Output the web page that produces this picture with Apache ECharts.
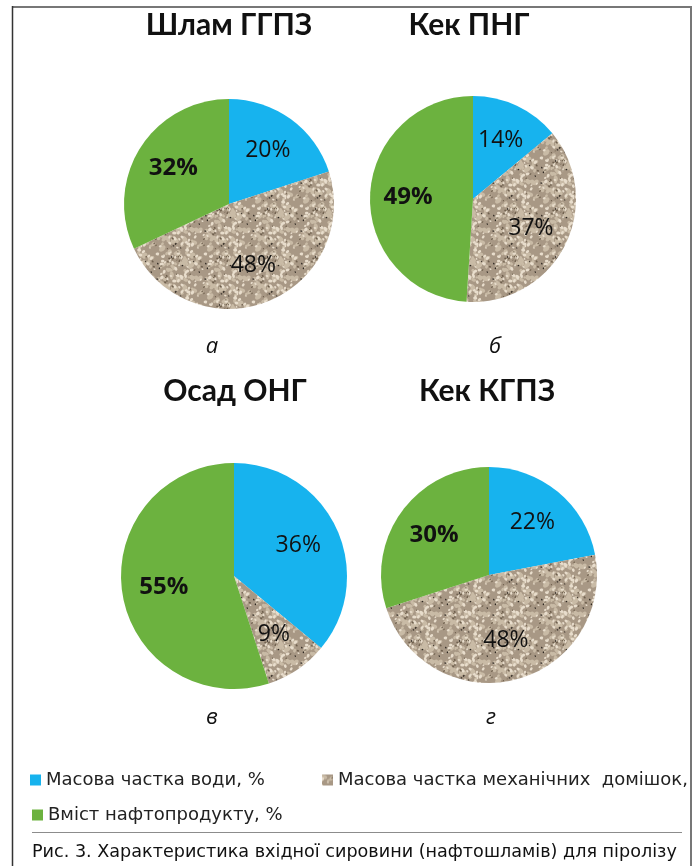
<!DOCTYPE html>
<html>

<head>
    <meta charset="UTF-8">
    <title>Характеристика вхідної сировини</title>
    <script src="https://cdn.jsdelivr.net/npm/echarts@6/dist/echarts.min.js"></script>
    <style>
        html, body { margin: 0; padding: 0; background: #fff; }
        #chart { width: 698px; height: 866px; }
    </style>
</head>

<body>
    <div id="chart"></div>

    <script>
        // дані (з рисунка)
        var titles = ['Шлам ГГПЗ', 'Кек ПНГ', 'Осад ОНГ', 'Кек КГПЗ'];
        var subLabels = ['а', 'б', 'в', 'г'];
        var categories = ['Масова частка води, %', 'Масова частка механічних  домішок,', 'Вміст нафтопродукту, %'];
        var water = [20, 14, 36, 22];
        var mech = [48, 37, 9, 48];
        var oil = [32, 49, 55, 30];

        // розміщення
        var centers = [[229, 204], [473, 199], [234, 576], [489, 575]];
        var radii = [105, 103, 113, 108];
        var titlePos = [[229, 25], [469, 25], [235, 391], [487, 391]];
        var subPos = [[212, 347], [495, 347], [212, 718], [491, 718]];

        var BLUE = '#17b3ee';
        var GREEN = '#6cb23f';

        // текстура "гравій" для механічних домішок
        function gravel() {
            var N = 48;
            var c = document.createElement('canvas');
            c.width = c.height = N;
            var g = c.getContext('2d');
            g.fillStyle = '#a89885';
            g.fillRect(0, 0, N, N);
            var s = 11;
            function rnd() { s = (s * 16807) % 2147483647; return s / 2147483647; }
            function blobs(n, color, rmin, rmax) {
                g.fillStyle = color;
                for (var i = 0; i < n; i++) {
                    var x = rnd() * N, y = rnd() * N, r = rmin + rnd() * (rmax - rmin), a = rnd() * 3;
                    for (var ox = -N; ox <= N; ox += N) {
                        for (var oy = -N; oy <= N; oy += N) {
                            g.beginPath();
                            g.ellipse(x + ox, y + oy, r, r * 0.7, a, 0, Math.PI * 2);
                            g.fill();
                        }
                    }
                }
            }
            blobs(80, '#c9bba6', 1.5, 3.2);
            blobs(70, '#e8ddcc', 1.0, 2.2);
            blobs(30, '#6f604e', 0.6, 1.3);
            blobs(10, '#2a241f', 0.7, 1.1);
            return c;
        }
        var MECH = { image: gravel(), repeat: 'repeat' };
        var colors = [BLUE, MECH, GREEN];

        var series = [];
        titles.forEach(function (t, i) {
            var vals = [water[i], mech[i], oil[i]];
            series.push({
                type: 'pie',
                center: centers[i],
                radius: radii[i],
                startAngle: 90,
                clockwise: true,
                silent: true,
                animation: false,
                label: { show: false },
                labelLine: { show: false },
                itemStyle: { borderWidth: 0 },
                data: vals.map(function (v, k) {
                    return { name: categories[k], value: v, itemStyle: { color: colors[k] } };
                })
            });
            // кільце лише для підписів
            series.push({
                type: 'pie',
                center: centers[i],
                radius: [Math.round(radii[i] * 0.2), radii[i]],
                startAngle: 90,
                clockwise: true,
                silent: true,
                animation: false,
                legendHoverLink: false,
                itemStyle: { color: 'rgba(0,0,0,0)', borderWidth: 0 },
                label: {
                    show: true,
                    position: 'inside',
                    formatter: '{c}%',
                    fontFamily: 'Open Sans',
                    fontSize: 23,
                    color: '#111'
                },
                labelLine: { show: false },
                data: vals.map(function (v, k) {
                    var d = { name: categories[k], value: v };
                    if (k === 2) d.label = { fontWeight: 'bold', fontSize: 24 };
                    return d;
                })
            });
        });

        var graphic = [
            { type: 'line', shape: { x1: 12, y1: 7, x2: 692, y2: 7 }, style: { stroke: '#777', lineWidth: 2 } },
            { type: 'line', shape: { x1: 12.5, y1: 6, x2: 12.5, y2: 866 }, style: { stroke: '#333', lineWidth: 1.5 } },
            { type: 'line', shape: { x1: 691, y1: 6, x2: 691, y2: 866 }, style: { stroke: '#777', lineWidth: 2 } },
            { type: 'line', shape: { x1: 32, y1: 832.5, x2: 682, y2: 832.5 }, style: { stroke: '#8c8c8c', lineWidth: 1 } },
            {
                type: 'text', x: 32, y: 852,
                style: {
                    text: 'Рис. 3. Характеристика вхідної сировини (нафтошламів) для піролізу',
                    font: '17.6px "DejaVu Sans"', fill: '#111', textAlign: 'left', textVerticalAlign: 'middle'
                }
            }
        ];
        titles.forEach(function (t, i) {
            graphic.push({
                type: 'text', x: titlePos[i][0], y: titlePos[i][1],
                style: { text: t, font: 'bold 30px Lato', fill: '#111', textAlign: 'center', textVerticalAlign: 'middle' }
            });
            graphic.push({
                type: 'text', x: subPos[i][0], y: subPos[i][1],
                style: { text: subLabels[i], font: 'italic 22px "Open Sans"', fill: '#111', textAlign: 'center', textVerticalAlign: 'middle' }
            });
        });

        var legendText = { fontFamily: 'DejaVu Sans', fontSize: 18, color: '#222', lineHeight: 20 };
        var option = {
            backgroundColor: '#fff',
            animation: false,
            legend: [
                { data: [categories[0]], left: 25, top: 765, icon: 'rect', itemWidth: 11, itemHeight: 11, textStyle: legendText, selectedMode: false },
                { data: [categories[1]], left: 317, top: 765, icon: 'rect', itemWidth: 11, itemHeight: 11, textStyle: legendText, selectedMode: false },
                { data: [categories[2]], left: 27, top: 800, icon: 'rect', itemWidth: 11, itemHeight: 11, textStyle: legendText, selectedMode: false }
            ],
            graphic: graphic,
            series: series
        };

        var chart = echarts.init(document.getElementById('chart'));
        chart.setOption(option);
    </script>
</body>

</html>
